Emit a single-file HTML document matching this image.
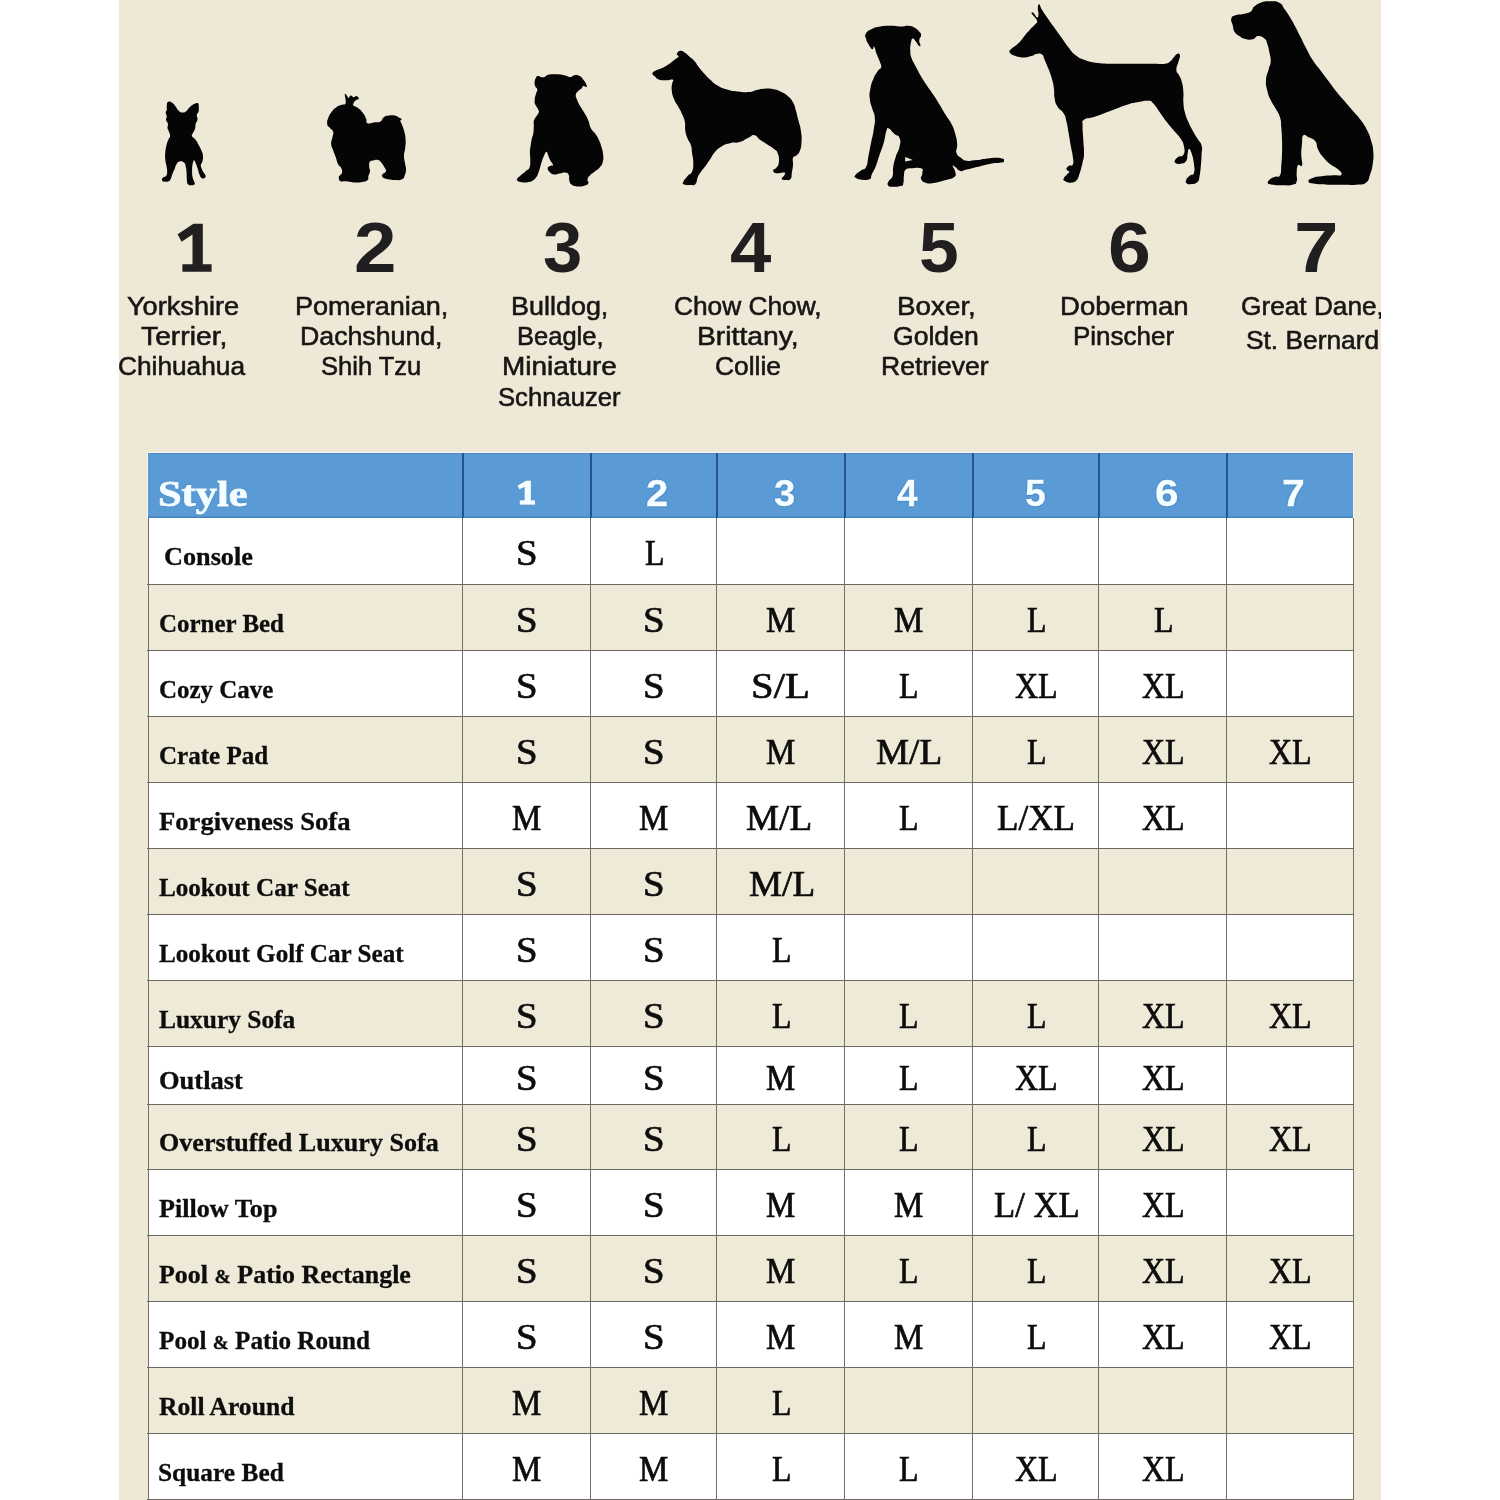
<!DOCTYPE html>
<html><head><meta charset="utf-8"><title>Size chart</title>
<style>
html,body{margin:0;padding:0;background:#fff;}
body{width:1500px;height:1500px;position:relative;overflow:hidden;font-family:"Liberation Sans",sans-serif;}
#panel{position:absolute;left:119px;top:0;width:1262px;height:1500px;background:#eee8d7;overflow:hidden;}
#wrap{position:absolute;left:-119px;top:0;width:1500px;height:1500px;}
.t{position:absolute;white-space:pre;line-height:60px;transform-origin:0 0;}
.num{font-family:'Liberation Sans';font-weight:bold;font-size:69px;color:#211e1f;}
.lbl{font-family:'Liberation Sans';font-size:25px;-webkit-text-stroke-width:0.55px;color:#181514;}
.style{font-family:'Liberation Serif';font-weight:bold;font-size:39px;-webkit-text-stroke-width:0.9px;color:#f4fdff;text-shadow:0 0 1.2px #2b6cab,0 0 1.5px #2b6cab;}
.hn{font-family:'Liberation Sans';font-weight:bold;font-size:34px;-webkit-text-stroke-width:0.3px;color:#f4fdff;text-shadow:0 0 1.2px #2b6cab,0 0 1.5px #2b6cab;}
.name{font-family:'Liberation Serif';font-weight:bold;font-size:24.4px;-webkit-text-stroke-width:0.3px;color:#0d0d0d;}
.sz{font-family:'Liberation Serif';font-size:35.6px;-webkit-text-stroke-width:0.7px;color:#0d0d0d;}
.row{position:absolute;left:148px;width:1205.4px;}
.w{background:#fff;} .b{background:#efe9d8;}
.hl{position:absolute;left:147.3px;width:1206.8px;height:1.25px;background:#6a6761;}
  .vl{position:absolute;top:518.2px;width:1.25px;height:983px;background:#726f69;}
.vh{position:absolute;top:453.3px;width:1.5px;height:64.3px;background:#235489;}
#hdr{position:absolute;left:147.8px;top:453.3px;width:1205.4px;height:64.3px;background:#5b9bd5;box-shadow:inset 0 -1.5px 0 #4583c0,inset 0 1px 0 #4d8ac6,0 0 0 1px rgba(248,252,255,.7);}
svg.dog{position:absolute;}
</style></head><body>
<div id="panel"><div id="wrap">

<svg class="dog" style="left:0;top:0" width="1500" height="210" viewBox="0 0 1500 210"><path d="M168.2,101.7C169.7,101.0 170.2,101.5 172.3,102.8C174.3,104.2 174.2,104.7 175.9,106.9C177.7,109.0 177.1,109.4 178.9,110.9C180.6,112.4 180.6,112.3 182.5,112.4C184.5,112.5 184.2,112.7 186.2,111.3C188.1,109.8 187.7,108.8 189.9,106.9C192.0,104.9 192.1,104.9 194.3,103.9C196.4,103.0 196.7,102.6 197.9,103.2C199.1,103.8 198.5,104.0 198.7,106.1C198.8,108.3 199.1,108.9 198.7,111.3C198.2,113.6 197.1,112.8 196.8,114.9C196.5,117.1 197.8,117.0 197.6,119.3C197.3,121.7 196.4,121.2 195.7,123.7C195.0,126.3 195.8,126.3 195.0,128.9C194.2,131.4 193.6,131.3 192.8,133.3C192.0,135.2 191.3,134.4 192.1,136.2C192.8,137.9 194.0,137.5 195.7,139.9C197.5,142.2 197.1,142.1 198.7,145.0C200.2,147.9 200.4,147.9 201.6,150.9C202.8,153.8 202.9,153.0 203.0,156.0C203.2,158.9 202.9,159.5 202.3,161.8C201.7,164.2 201.0,163.0 200.9,164.8C200.7,166.5 200.8,166.3 201.6,168.4C202.4,170.6 202.7,170.9 203.8,172.8C204.9,174.8 205.4,174.4 205.6,175.8C205.8,177.1 205.6,177.4 204.5,178.0C203.4,178.6 203.0,179.0 201.6,178.0C200.2,177.0 200.4,176.7 199.4,174.3C198.4,172.0 198.9,172.1 197.9,169.2C196.9,166.2 196.7,165.7 195.7,163.3C194.7,161.0 195.0,160.4 194.3,160.4C193.5,160.4 193.4,160.6 192.8,163.3C192.2,166.1 192.1,166.7 192.1,170.6C192.1,174.6 192.1,174.8 192.8,178.0C193.5,181.1 194.2,180.6 194.6,182.4C195.0,184.1 195.1,183.8 194.3,184.6C193.4,185.4 193.0,185.4 191.3,185.3C189.7,185.2 189.2,185.6 188.0,184.2C186.8,182.8 187.3,183.2 186.9,180.2C186.5,177.1 186.8,176.4 186.6,172.8C186.3,169.3 186.5,169.7 185.8,167.0C185.1,164.2 185.7,164.0 184.0,162.6C182.3,161.1 181.5,161.1 179.6,161.5C177.6,161.9 178.0,162.0 176.7,164.0C175.3,166.1 175.6,166.4 174.5,169.2C173.3,171.9 173.2,171.8 172.3,174.3C171.3,176.9 171.8,176.9 170.8,178.7C169.8,180.6 170.4,180.5 168.6,181.3C166.8,182.1 166.0,181.9 164.2,181.6C162.4,181.3 162.3,181.3 162.0,180.2C161.7,179.1 161.9,178.9 163.1,177.6C164.3,176.3 165.3,177.3 166.4,175.4C167.5,173.6 167.1,173.3 167.1,170.6C167.1,168.0 166.9,168.4 166.4,165.5C165.9,162.6 165.6,163.2 165.3,159.6C165.0,156.1 165.0,156.0 165.3,152.3C165.6,148.6 165.6,149.0 166.4,145.7C167.2,142.4 167.2,142.4 168.2,139.9C169.2,137.3 169.9,138.3 170.1,136.2C170.3,134.0 169.6,133.9 169.0,131.8C168.3,129.6 167.8,130.3 167.5,128.1C167.2,126.0 168.3,125.9 167.9,123.7C167.5,121.6 166.3,122.0 166.0,120.1C165.7,118.1 166.9,118.3 166.8,116.4C166.7,114.4 165.7,114.5 165.7,112.7C165.7,111.0 166.5,111.7 166.8,109.8C167.1,107.8 166.4,107.5 166.8,105.4C167.2,103.2 166.8,102.4 168.2,101.7Z" fill="#050505"/><path d="M344.8,94.0C345.2,92.9 346.2,94.9 347.2,96.0C348.2,97.1 347.4,98.1 348.4,98.0C349.4,97.9 349.4,95.8 350.8,95.6C352.2,95.4 352.1,97.1 353.6,97.2C355.1,97.3 355.0,95.6 356.4,96.0C357.8,96.4 359.0,97.6 358.8,98.8C358.6,100.0 357.0,99.2 355.6,100.4C354.2,101.6 354.1,101.8 353.6,103.2C353.1,104.6 352.4,104.3 353.6,105.6C354.8,106.9 355.5,106.1 358.0,108.0C360.5,109.9 360.7,110.0 362.8,112.8C364.9,115.6 364.7,115.6 366.0,118.4C367.3,121.2 365.5,122.1 367.6,123.2C369.7,124.3 370.6,122.8 374.0,122.4C377.4,122.0 377.8,122.9 380.4,121.6C383.0,120.3 381.5,119.2 383.6,117.6C385.7,116.0 385.4,116.1 388.4,115.6C391.4,115.1 392.0,115.1 394.8,115.6C397.6,116.1 397.0,116.6 398.8,117.6C400.6,118.6 401.2,118.3 401.6,119.2C402.0,120.1 400.3,119.3 400.4,120.8C400.5,122.3 400.9,121.8 402.0,124.8C403.1,127.8 403.4,127.9 404.4,132.0C405.4,136.1 405.4,135.7 405.6,140.0C405.8,144.3 405.6,143.7 405.2,148.0C404.8,152.3 404.0,151.7 404.0,156.0C404.0,160.3 404.7,160.4 405.2,164.0C405.7,167.6 406.1,166.6 406.0,169.6C405.9,172.6 405.9,172.6 404.8,175.2C403.7,177.8 404.9,177.9 402.0,179.2C399.1,180.5 398.3,180.1 394.0,180.0C389.7,179.9 389.1,179.7 386.0,178.8C382.9,177.9 383.3,178.1 382.4,176.8C381.5,175.5 381.8,175.5 382.8,174.0C383.8,172.5 385.6,173.0 386.0,171.2C386.4,169.4 385.7,169.5 384.4,167.2C383.1,164.9 382.9,164.3 381.2,162.4C379.5,160.5 380.1,160.5 378.0,160.0C375.9,159.5 375.3,160.0 373.2,160.4C371.1,160.8 371.1,160.0 370.0,161.6C368.9,163.2 369.2,163.8 369.2,166.4C369.2,169.0 370.2,168.6 370.0,171.2C369.8,173.8 369.0,173.7 368.4,176.0C367.8,178.3 369.3,178.4 367.6,180.0C365.9,181.6 365.6,181.4 362.0,182.0C358.4,182.6 358.3,182.6 354.0,182.4C349.7,182.2 349.6,181.5 346.0,181.2C342.4,180.9 342.3,182.2 340.4,181.2C338.5,180.2 338.9,179.2 338.8,177.6C338.7,176.0 339.1,176.5 340.0,175.2C340.9,173.9 341.7,174.7 342.0,172.8C342.3,170.9 342.3,170.3 341.2,168.0C340.1,165.7 339.5,167.0 338.0,164.0C336.5,161.0 336.9,160.4 335.6,156.8C334.3,153.2 334.4,153.8 333.2,150.4C332.0,147.0 331.4,147.4 331.2,144.0C331.0,140.6 331.9,140.8 332.4,137.6C332.9,134.4 333.8,134.6 333.2,132.0C332.6,129.4 331.6,130.1 330.0,128.0C328.4,125.9 327.6,126.8 327.2,124.0C326.8,121.2 327.2,120.8 328.4,117.6C329.6,114.4 329.5,114.8 331.6,112.0C333.7,109.2 333.6,109.1 336.4,107.2C339.2,105.3 339.7,105.7 342.0,104.8C344.3,103.9 344.2,105.3 345.2,104.0C346.2,102.7 345.7,102.7 345.6,100.0C345.5,97.3 344.4,95.1 344.8,94.0Z" fill="#050505"/><path d="M538.1,76.0C540.1,75.9 540.6,77.7 543.3,77.3C546.1,77.0 545.1,75.5 548.5,74.7C552.0,73.9 552.2,74.2 556.3,74.3C560.5,74.4 560.4,74.5 564.1,75.2C567.8,75.9 567.4,76.9 570.2,76.9C573.0,76.9 572.0,75.4 574.5,75.2C577.1,74.9 577.4,74.9 579.7,76.0C582.0,77.2 581.6,77.5 583.2,79.5C584.8,81.5 584.9,81.4 585.8,83.4C586.7,85.4 587.3,86.2 586.7,86.9C586.0,87.6 584.6,85.5 583.2,86.0C581.8,86.5 582.8,87.2 581.5,88.6C580.1,90.0 579.5,89.6 578.0,91.2C576.5,92.8 576.1,92.4 575.8,94.7C575.6,97.0 575.9,96.6 577.1,99.9C578.4,103.1 578.5,103.1 580.6,106.8C582.7,110.5 582.8,110.0 584.9,113.7C587.0,117.4 586.8,116.7 588.4,120.7C590.0,124.6 589.1,125.0 591.0,128.5C592.8,131.9 593.2,130.7 595.3,133.7C597.4,136.7 597.2,136.3 598.8,139.7C600.4,143.2 600.2,142.7 601.4,146.7C602.5,150.6 602.8,150.3 603.1,154.5C603.5,158.6 603.6,158.8 602.7,162.3C601.8,165.7 601.8,164.9 599.7,167.5C597.5,170.0 597.0,169.7 594.5,171.8C591.9,173.9 592.0,173.2 590.1,175.3C588.3,177.3 588.0,177.5 587.5,179.6C587.1,181.7 589.1,181.4 588.4,183.1C587.7,184.7 587.7,184.7 584.9,185.6C582.1,186.6 581.5,186.7 578.0,186.5C574.5,186.3 574.2,186.4 571.9,184.8C569.6,183.2 570.1,183.0 569.3,180.5C568.5,177.9 569.8,177.3 568.9,175.3C568.0,173.2 568.3,173.1 565.9,172.7C563.4,172.2 563.0,173.1 559.8,173.5C556.6,174.0 556.5,174.8 553.7,174.4C551.0,173.9 551.0,173.4 549.4,171.8C547.8,170.2 547.7,169.8 547.7,168.3C547.7,166.8 548.0,167.1 549.4,166.2C550.8,165.2 552.6,166.4 552.9,164.9C553.1,163.4 551.5,163.1 550.3,160.5C549.0,158.0 549.1,157.6 548.1,155.3C547.1,153.0 547.5,151.6 546.4,151.9C545.2,152.1 545.0,153.4 543.8,156.2C542.5,159.0 542.6,159.0 541.6,162.3C540.6,165.5 540.8,165.3 539.9,168.3C538.9,171.3 539.1,171.2 538.1,173.5C537.2,175.8 537.8,175.1 536.4,177.0C535.0,178.8 535.2,179.1 532.9,180.5C530.6,181.8 530.7,181.7 527.7,182.2C524.7,182.6 524.3,182.5 521.7,182.2C519.0,181.8 518.9,181.8 517.8,180.9C516.6,180.0 516.5,180.2 517.3,178.7C518.1,177.2 518.5,177.3 520.8,175.3C523.1,173.2 523.7,173.0 526.0,170.9C528.3,168.8 528.3,170.5 529.5,167.5C530.6,164.4 530.2,163.8 530.3,159.7C530.4,155.5 529.8,155.8 529.9,151.9C530.0,147.9 530.3,148.2 530.8,144.9C531.2,141.7 530.9,143.0 531.6,139.7C532.3,136.5 532.8,136.5 533.4,132.8C533.9,129.1 533.6,129.3 533.8,125.9C534.0,122.4 533.1,123.0 534.2,119.8C535.4,116.6 537.0,116.3 538.1,113.7C539.3,111.2 539.3,112.6 538.6,110.3C537.9,107.9 536.6,107.8 535.5,105.1C534.5,102.3 534.5,102.9 534.7,99.9C534.8,96.9 535.3,96.6 536.0,93.8C536.7,91.0 537.5,91.5 537.3,89.5C537.0,87.4 535.8,88.1 535.1,86.0C534.4,83.9 534.4,83.9 534.7,81.7C534.9,79.5 535.0,79.3 536.0,77.8C536.9,76.3 536.2,76.1 538.1,76.0Z" fill="#050505"/><path d="M680.2,50.8C682.5,50.5 682.8,51.4 685.3,53.0C687.9,54.7 687.4,54.9 689.9,57.0C692.3,59.1 692.0,58.2 694.4,61.0C696.8,63.7 696.2,63.7 698.9,67.2C701.7,70.7 701.6,70.7 704.6,74.0C707.6,77.3 706.9,76.6 710.3,79.7C713.6,82.7 712.8,82.8 717.1,85.3C721.3,87.9 720.7,87.6 726.1,89.3C731.6,91.0 731.4,90.8 737.5,91.6C743.5,92.3 743.7,92.6 748.8,92.1C753.9,91.7 752.5,90.8 756.7,89.9C761.0,89.0 760.1,88.9 764.7,88.7C769.2,88.6 769.2,88.4 773.7,89.3C778.3,90.2 777.7,90.2 781.7,92.1C785.6,94.1 785.4,93.9 788.5,96.7C791.5,99.4 791.0,98.7 793.0,102.3C795.0,106.0 794.5,105.7 795.8,110.3C797.2,114.8 796.7,113.9 798.1,119.3C799.5,124.8 800.0,124.6 800.9,130.7C801.8,136.7 801.8,136.6 801.5,142.0C801.2,147.4 801.2,147.4 799.8,151.1C798.4,154.7 798.2,153.8 796.4,155.6C794.6,157.4 793.9,155.4 793.0,157.9C792.1,160.3 793.3,160.7 793.0,164.7C792.7,168.6 792.5,168.8 791.9,172.6C791.3,176.4 792.2,176.9 790.7,178.8C789.2,180.8 788.6,180.0 786.2,180.0C783.8,180.0 782.1,180.2 781.7,178.8C781.2,177.5 783.9,176.5 784.5,174.9C785.1,173.2 786.2,173.0 783.9,172.6C781.7,172.1 778.9,173.8 776.0,173.2C773.1,172.6 773.2,171.7 773.2,170.3C773.2,169.0 774.5,170.2 776.0,168.1C777.5,165.9 778.4,166.3 778.8,162.4C779.3,158.5 779.1,157.0 777.7,153.3C776.3,149.7 776.6,151.2 773.7,148.8C770.9,146.4 770.6,146.7 766.9,144.3C763.3,141.8 763.5,142.1 760.1,139.7C756.8,137.3 757.5,135.8 754.5,135.2C751.4,134.6 752.7,135.6 748.8,137.5C744.9,139.3 744.6,140.5 739.7,142.0C734.9,143.5 735.5,141.9 730.7,143.1C725.8,144.3 725.8,144.1 721.6,146.5C717.4,148.9 717.8,148.9 714.8,152.2C711.8,155.5 712.7,155.4 710.3,159.0C707.8,162.6 708.1,162.5 705.7,165.8C703.3,169.1 703.3,168.4 701.2,171.5C699.1,174.5 699.3,173.8 697.8,177.1C696.3,180.5 697.6,181.8 695.5,183.9C693.4,186.0 692.9,184.9 689.9,185.1C686.8,185.2 686.0,185.2 684.2,184.5C682.4,183.7 682.2,184.5 683.1,182.2C684.0,180.0 685.2,178.9 687.6,176.0C690.0,173.1 690.6,175.1 692.1,171.5C693.6,167.8 693.3,167.2 693.3,162.4C693.3,157.6 692.7,157.9 692.1,153.3C691.5,148.8 692.2,149.3 691.0,145.4C689.8,141.5 689.1,142.5 687.6,138.6C686.1,134.7 686.1,135.2 685.3,130.7C684.6,126.1 685.7,126.1 684.8,121.6C683.9,117.1 683.6,117.6 681.9,113.7C680.3,109.7 680.6,110.8 678.5,106.9C676.4,102.9 675.8,103.5 674.0,98.9C672.2,94.4 672.2,94.1 671.7,89.9C671.3,85.6 672.0,85.8 672.3,83.1C672.6,80.3 674.5,80.4 672.9,79.7C671.2,78.9 669.7,80.2 666.1,80.2C662.4,80.2 662.3,80.7 659.3,79.7C656.2,78.6 656.5,77.9 654.7,76.3C652.9,74.6 652.2,74.9 652.5,73.4C652.8,71.9 653.1,72.1 655.9,70.6C658.6,69.1 659.0,69.6 662.7,67.8C666.3,66.0 666.1,66.1 669.5,63.8C672.8,61.5 672.7,61.2 675.1,59.3C677.5,57.3 678.1,57.8 678.5,56.4C679.0,55.1 676.4,55.7 676.8,54.2C677.3,52.7 678.0,51.1 680.2,50.8Z" fill="#050505"/><path d="M866.0,33.4C867.5,30.9 867.8,30.9 871.7,29.0C875.6,27.1 875.5,27.3 880.5,26.5C885.6,25.6 885.3,25.8 890.7,25.8C896.1,25.8 896.1,26.5 900.8,26.5C905.5,26.5 904.7,25.5 908.4,25.8C912.1,26.2 911.9,26.2 914.7,27.7C917.6,29.3 917.5,29.5 919.2,31.5C920.9,33.6 921.1,33.0 921.1,35.3C921.1,37.7 919.3,37.9 919.2,40.4C919.0,42.9 920.4,43.3 920.4,44.8C920.4,46.4 920.4,46.9 919.2,46.1C918.0,45.3 917.7,43.7 916.0,41.7C914.3,39.6 914.2,38.2 912.8,38.5C911.5,38.8 911.6,39.7 910.9,42.9C910.3,46.1 910.1,46.5 910.3,50.5C910.5,54.6 910.1,53.7 911.6,58.1C913.1,62.5 913.1,61.6 916.0,67.0C918.9,72.4 918.6,72.3 922.3,78.4C926.1,84.5 925.9,83.7 929.9,89.8C934.0,95.9 933.5,94.8 937.5,101.2C941.6,107.6 941.4,107.8 945.1,113.9C948.9,120.0 948.8,118.6 951.5,124.0C954.2,129.4 953.8,128.7 955.3,134.1C956.8,139.5 956.8,139.2 957.2,144.3C957.5,149.3 955.4,149.4 956.5,153.1C957.7,156.9 958.9,156.2 961.6,158.2C964.3,160.2 962.6,160.2 966.7,160.7C970.7,161.3 970.7,160.8 976.8,160.1C982.9,159.4 983.1,158.7 989.5,158.2C995.9,157.7 997.0,157.5 1000.9,158.2C1004.8,158.9 1004.0,159.6 1004.0,160.7C1004.0,161.9 1004.8,161.8 1000.9,162.6C997.0,163.5 995.9,162.7 989.5,163.9C983.1,165.1 982.9,165.6 976.8,167.1C970.7,168.6 971.1,168.6 966.7,169.6C962.3,170.6 963.4,171.6 960.3,170.9C957.3,170.2 957.3,168.4 955.3,167.1C953.3,165.7 952.7,164.5 952.7,165.8C952.7,167.2 954.9,169.1 955.3,172.1C955.6,175.2 957.1,175.0 954.0,177.2C951.0,179.4 949.3,178.9 943.9,180.4C938.5,181.9 938.5,182.2 933.7,182.9C929.0,183.6 929.5,183.9 926.1,182.9C922.8,181.9 922.1,181.6 921.1,179.1C920.1,176.6 922.3,176.3 922.3,173.4C922.3,170.5 924.1,169.7 921.1,168.3C918.0,167.0 915.0,168.0 910.9,168.3C906.9,168.7 907.7,167.9 905.9,169.6C904.0,171.3 904.6,171.0 904.0,174.7C903.3,178.4 904.2,180.5 903.3,183.5C902.5,186.6 903.5,185.2 900.8,186.1C898.1,186.9 896.6,186.9 893.2,186.7C889.8,186.5 889.3,187.0 888.1,185.4C887.0,183.9 887.6,183.5 888.8,181.0C890.0,178.5 891.4,179.7 892.6,175.9C893.8,172.2 892.4,172.1 893.2,167.1C894.0,162.0 894.0,162.4 895.7,156.9C897.4,151.5 898.5,151.9 899.5,146.8C900.6,141.7 900.9,141.3 899.5,137.9C898.2,134.6 897.3,136.7 894.5,134.1C891.6,131.6 891.0,129.1 888.8,128.4C886.6,127.8 887.6,127.7 886.2,131.6C884.9,135.5 885.6,136.6 883.7,143.0C881.8,149.4 881.5,149.3 879.3,155.7C877.1,162.1 877.5,162.0 875.5,167.1C873.4,172.1 873.2,171.5 871.7,174.7C870.1,177.9 872.5,177.8 869.8,179.1C867.1,180.5 865.3,180.1 861.5,179.7C857.8,179.4 857.5,179.0 855.8,177.8C854.1,176.7 854.0,177.2 855.2,175.3C856.4,173.5 857.4,173.1 860.3,170.9C863.1,168.7 863.8,171.1 866.0,167.1C868.2,163.0 867.2,162.1 868.5,155.7C869.9,149.3 869.7,149.8 871.0,143.0C872.4,136.3 872.6,137.1 873.6,130.3C874.6,123.6 875.2,123.4 874.8,117.7C874.5,111.9 873.7,113.9 872.3,108.8C871.0,103.7 870.3,104.1 869.8,98.7C869.3,93.3 869.4,93.9 870.4,88.5C871.4,83.1 871.5,83.1 873.6,78.4C875.6,73.7 876.0,73.8 878.0,70.8C880.0,67.8 880.7,69.4 881.2,67.0C881.7,64.6 881.1,65.3 879.9,61.9C878.7,58.6 878.3,58.4 876.7,54.3C875.2,50.3 875.4,48.1 874.2,46.7C873.0,45.4 873.8,49.9 872.3,49.3C870.8,48.6 870.2,47.1 868.5,44.2C866.8,41.3 866.6,41.4 866.0,38.5C865.3,35.6 864.4,36.0 866.0,33.4Z" fill="#050505"/><path d="M1039.2,4.2C1040.3,4.6 1039.8,6.1 1042.0,9.8C1044.2,13.5 1044.2,13.3 1047.6,18.2C1051.0,23.1 1050.9,22.8 1054.6,28.0C1058.3,33.2 1057.9,32.6 1061.6,37.8C1065.3,43.0 1064.9,42.9 1068.6,47.6C1072.3,52.3 1071.1,51.9 1075.6,55.3C1080.1,58.7 1079.4,58.1 1085.4,60.2C1091.4,62.3 1090.9,62.1 1098.0,63.0C1105.1,63.9 1104.5,63.5 1112.0,63.7C1119.5,63.9 1118.5,63.7 1126.0,63.7C1133.5,63.7 1132.5,63.7 1140.0,63.7C1147.5,63.7 1147.3,63.7 1154.0,63.7C1160.7,63.7 1160.9,64.3 1165.2,63.7C1169.5,63.1 1167.9,63.3 1170.1,61.6C1172.3,59.9 1171.7,59.5 1173.6,57.4C1175.5,55.3 1175.4,54.5 1177.1,53.9C1178.8,53.3 1179.5,53.2 1179.9,55.3C1180.3,57.4 1179.4,57.7 1178.5,61.6C1177.6,65.5 1176.2,66.3 1176.4,70.0C1176.6,73.7 1177.7,72.2 1179.2,75.6C1180.7,79.0 1180.9,78.1 1182.0,82.6C1183.1,87.1 1183.0,87.2 1183.4,92.4C1183.8,97.6 1183.0,97.0 1183.4,102.2C1183.8,107.4 1183.5,106.8 1184.8,112.0C1186.1,117.2 1186.2,116.9 1188.3,121.8C1190.3,126.7 1190.1,125.7 1192.5,130.2C1194.9,134.7 1195.0,134.5 1197.4,138.6C1199.8,142.7 1200.5,141.5 1201.6,145.6C1202.7,149.7 1201.8,148.8 1201.6,154.0C1201.4,159.2 1201.5,159.2 1200.9,165.2C1200.3,171.2 1200.4,171.9 1199.5,176.4C1198.6,180.9 1199.4,179.9 1197.4,182.0C1195.3,184.0 1194.6,183.7 1191.8,184.1C1189.0,184.5 1188.4,184.5 1186.9,183.4C1185.4,182.3 1185.4,181.9 1186.2,179.9C1186.9,177.8 1187.6,177.6 1189.7,175.7C1191.7,173.8 1192.8,176.1 1193.9,172.9C1195.0,169.7 1194.5,168.8 1193.9,163.8C1193.3,158.8 1193.1,157.9 1191.8,154.0C1190.5,150.1 1190.1,149.1 1189.0,149.1C1187.9,149.1 1188.3,150.8 1187.6,154.0C1186.8,157.2 1188.1,158.4 1186.2,161.0C1184.3,163.6 1183.4,163.2 1180.6,163.8C1177.8,164.4 1177.2,164.0 1175.7,163.1C1174.2,162.2 1174.2,162.0 1175.0,160.3C1175.7,158.6 1176.3,158.3 1178.5,156.8C1180.7,155.3 1181.9,157.3 1183.4,154.7C1184.9,152.1 1184.8,151.3 1184.1,147.0C1183.3,142.7 1183.4,143.1 1180.6,138.6C1177.8,134.1 1177.3,134.7 1173.6,130.2C1169.9,125.7 1170.3,126.7 1166.6,121.8C1162.9,116.9 1163.1,116.9 1159.6,112.0C1156.1,107.1 1156.3,106.6 1153.3,103.6C1150.3,100.6 1152.7,101.2 1148.4,100.8C1144.1,100.4 1143.2,101.1 1137.2,102.2C1131.2,103.3 1132.0,103.1 1126.0,105.0C1120.0,106.9 1120.8,107.0 1114.8,109.2C1108.8,111.4 1109.2,111.3 1103.6,113.4C1098.0,115.5 1099.0,115.2 1093.8,116.9C1088.6,118.6 1087.0,117.3 1084.0,119.7C1081.0,122.1 1082.8,120.6 1082.6,126.0C1082.4,131.4 1082.9,132.5 1083.3,140.0C1083.7,147.5 1084.2,148.0 1084.0,154.0C1083.8,160.0 1083.3,158.7 1082.6,162.4C1081.9,166.1 1082.1,164.6 1081.2,168.0C1080.3,171.4 1080.4,171.6 1079.1,175.0C1077.8,178.4 1078.5,178.5 1076.3,180.6C1074.1,182.6 1073.7,182.5 1070.7,182.7C1067.7,182.9 1067.0,182.4 1065.1,181.3C1063.2,180.2 1063.1,180.4 1063.7,178.5C1064.3,176.6 1065.7,176.2 1067.2,174.3C1068.7,172.4 1069.5,172.8 1069.3,171.5C1069.1,170.2 1066.7,170.9 1066.5,169.4C1066.3,167.9 1066.9,167.2 1068.6,165.9C1070.3,164.6 1071.7,166.9 1072.8,164.5C1073.9,162.1 1073.4,161.8 1072.8,156.8C1072.2,151.8 1071.8,151.9 1070.7,145.6C1069.6,139.3 1069.7,139.3 1068.6,133.0C1067.5,126.7 1067.8,127.0 1066.5,121.8C1065.2,116.6 1066.1,117.5 1063.7,113.4C1061.3,109.3 1059.8,110.5 1057.4,106.4C1055.0,102.3 1055.5,102.9 1054.6,98.0C1053.7,93.1 1054.6,93.4 1053.9,88.2C1053.2,83.0 1053.3,83.6 1051.8,78.4C1050.3,73.2 1050.2,73.5 1048.3,68.6C1046.4,63.7 1046.5,63.9 1044.8,60.2C1043.1,56.5 1044.2,56.3 1042.0,54.6C1039.8,52.9 1039.2,53.5 1036.4,53.9C1033.6,54.3 1034.9,55.1 1031.5,56.0C1028.1,56.9 1028.1,57.4 1023.8,57.4C1019.5,57.4 1019.1,57.3 1015.4,56.0C1011.7,54.7 1010.9,54.4 1009.8,52.5C1008.7,50.6 1009.3,51.1 1011.2,49.0C1013.1,46.9 1014.2,47.0 1016.8,44.8C1019.4,42.6 1018.8,43.2 1021.0,40.6C1023.2,38.0 1022.8,38.0 1025.2,35.0C1027.6,32.0 1027.5,32.2 1030.1,29.4C1032.7,26.6 1033.1,26.7 1035.0,24.5C1036.9,22.3 1037.5,23.2 1037.1,21.0C1036.7,18.8 1035.1,18.2 1033.6,16.1C1032.1,14.0 1031.5,14.2 1031.5,13.3C1031.5,12.4 1032.1,11.8 1033.6,12.9C1035.1,14.0 1035.8,17.2 1037.1,17.5C1038.4,17.8 1038.3,16.4 1038.5,14.0C1038.7,11.6 1037.6,11.0 1037.8,8.4C1038.0,5.8 1038.1,3.8 1039.2,4.2Z" fill="#050505"/><path d="M1254.0,6.7C1256.1,5.1 1256.4,4.1 1260.7,2.7C1264.9,1.2 1265.0,1.3 1270.0,1.3C1275.0,1.3 1275.4,0.5 1279.3,2.7C1283.2,4.8 1281.8,5.4 1284.7,9.3C1287.5,13.2 1287.2,12.7 1290.0,17.3C1292.8,22.0 1292.5,21.3 1295.3,26.7C1298.2,32.0 1297.8,31.6 1300.7,37.3C1303.5,43.0 1302.8,42.0 1306.0,48.0C1309.2,54.0 1308.8,54.0 1312.7,60.0C1316.6,66.0 1316.4,65.0 1320.7,70.7C1324.9,76.4 1324.4,75.6 1328.7,81.3C1332.9,87.0 1332.4,86.7 1336.7,92.0C1340.9,97.3 1340.4,96.4 1344.7,101.3C1348.9,106.3 1348.4,105.7 1352.7,110.7C1356.9,115.6 1356.8,114.7 1360.7,120.0C1364.6,125.3 1364.5,125.0 1367.3,130.7C1370.2,136.4 1369.7,135.6 1371.3,141.3C1372.9,147.0 1373.0,146.0 1373.3,152.0C1373.7,158.0 1373.6,158.0 1372.7,164.0C1371.8,170.0 1371.8,169.7 1370.0,174.7C1368.2,179.6 1369.6,180.0 1366.0,182.7C1362.4,185.3 1362.7,184.1 1356.7,184.7C1350.6,185.2 1350.4,184.7 1343.3,184.7C1336.2,184.7 1337.1,184.8 1330.0,184.7C1322.9,184.5 1322.4,184.7 1316.7,184.0C1311.0,183.3 1309.7,183.6 1308.7,182.0C1307.6,180.4 1308.8,179.6 1312.7,178.0C1316.6,176.4 1317.6,176.7 1323.3,176.0C1329.0,175.3 1329.2,175.7 1334.0,175.3C1338.8,175.0 1340.3,176.3 1341.3,174.7C1342.4,173.1 1341.0,172.2 1338.0,169.3C1335.0,166.5 1333.9,167.2 1330.0,164.0C1326.1,160.8 1326.5,161.2 1323.3,157.3C1320.1,153.4 1320.1,153.6 1318.0,149.3C1315.9,145.1 1317.8,144.5 1315.3,141.3C1312.8,138.1 1311.9,138.9 1308.7,137.3C1305.5,135.7 1305.1,133.6 1303.3,135.3C1301.6,137.1 1302.5,138.8 1302.0,144.0C1301.5,149.2 1301.3,149.0 1301.3,154.7C1301.3,160.4 1302.9,162.5 1302.0,165.3C1301.1,168.2 1299.4,163.2 1298.0,165.3C1296.6,167.5 1297.0,169.1 1296.7,173.3C1296.3,177.6 1297.7,178.3 1296.7,181.3C1295.6,184.4 1296.6,183.6 1292.7,184.7C1288.8,185.7 1287.3,185.3 1282.0,185.3C1276.7,185.3 1276.4,185.2 1272.7,184.7C1268.9,184.1 1268.7,184.8 1268.0,183.3C1267.3,181.9 1268.0,181.1 1270.0,179.3C1272.0,177.6 1272.7,177.7 1275.3,176.7C1278.0,175.6 1278.4,178.4 1280.0,175.3C1281.6,172.3 1280.8,171.2 1281.3,165.3C1281.9,159.5 1281.8,160.1 1282.0,153.3C1282.2,146.6 1282.2,146.8 1282.0,140.0C1281.8,133.2 1281.9,134.0 1281.3,128.0C1280.8,122.0 1281.6,122.7 1280.0,117.3C1278.4,112.0 1277.8,112.6 1275.3,108.0C1272.8,103.4 1272.8,104.6 1270.7,100.0C1268.5,95.4 1268.6,96.0 1267.3,90.7C1266.1,85.3 1265.6,85.7 1266.0,80.0C1266.4,74.3 1267.4,74.3 1268.7,69.3C1269.9,64.4 1270.5,66.0 1270.7,61.3C1270.8,56.7 1270.2,56.6 1269.3,52.0C1268.4,47.4 1268.6,47.6 1267.3,44.0C1266.1,40.4 1267.2,40.8 1264.7,38.7C1262.2,36.5 1261.2,35.8 1258.0,36.0C1254.8,36.2 1256.2,38.6 1252.7,39.3C1249.1,40.0 1248.2,39.6 1244.7,38.7C1241.1,37.8 1242.0,37.8 1239.3,36.0C1236.7,34.2 1236.4,34.8 1234.7,32.0C1232.9,29.2 1233.6,28.9 1232.7,25.3C1231.8,21.8 1230.6,21.3 1231.3,18.7C1232.0,16.0 1232.1,16.6 1235.3,15.3C1238.5,14.1 1239.4,14.9 1243.3,14.0C1247.2,13.1 1247.5,13.4 1250.0,12.0C1252.5,10.6 1251.6,10.1 1252.7,8.7C1253.7,7.2 1251.9,8.3 1254.0,6.7Z" fill="#050505"/><polygon points="905.2,156.9 912.8,160.1 905.2,161.4" fill="#eee8d7"/></svg>
<div class="t num" style="left:353.93px;top:218.13px;transform:scale(1.1061,1.0126)">2</div>
<div class="t num" style="left:543.07px;top:218.13px;transform:scale(1.0232,1.0126)">3</div>
<div class="t num" style="left:730.02px;top:218.13px;transform:scale(1.0784,1.0126)">4</div>
<div class="t num" style="left:919.17px;top:218.13px;transform:scale(1.0365,1.0126)">5</div>
<div class="t num" style="left:1107.61px;top:218.13px;transform:scale(1.1164,1.0126)">6</div>
<div class="t num" style="left:1293.92px;top:218.13px;transform:scale(1.1597,1.0126)">7</div>
<div class="t lbl" style="left:127.03px;top:275.55px;transform:scale(1.0856,1.0000)">Yorkshire</div>
<div class="t lbl" style="left:140.52px;top:305.90px;transform:scale(1.1300,1.0000)">Terrier,</div>
<div class="t lbl" style="left:118.35px;top:336.25px;transform:scale(1.0503,1.0000)">Chihuahua</div>
<div class="t lbl" style="left:294.81px;top:275.55px;transform:scale(1.0819,1.0000)">Pomeranian,</div>
<div class="t lbl" style="left:300.03px;top:305.90px;transform:scale(1.0682,1.0000)">Dachshund,</div>
<div class="t lbl" style="left:320.83px;top:336.25px;transform:scale(1.0208,1.0000)">Shih Tzu</div>
<div class="t lbl" style="left:511.11px;top:275.55px;transform:scale(1.0775,1.0000)">Bulldog,</div>
<div class="t lbl" style="left:517.11px;top:305.90px;transform:scale(1.0210,1.0000)">Beagle,</div>
<div class="t lbl" style="left:502.04px;top:336.25px;transform:scale(1.1172,1.0000)">Miniature</div>
<div class="t lbl" style="left:497.93px;top:366.60px;transform:scale(1.0262,1.0000)">Schnauzer</div>
<div class="t lbl" style="left:673.85px;top:275.55px;transform:scale(1.0514,1.0000)">Chow Chow,</div>
<div class="t lbl" style="left:697.02px;top:305.90px;transform:scale(1.1302,1.0000)">Brittany,</div>
<div class="t lbl" style="left:714.54px;top:336.25px;transform:scale(1.0551,1.0000)">Collie</div>
<div class="t lbl" style="left:896.85px;top:275.55px;transform:scale(1.1123,1.0000)">Boxer,</div>
<div class="t lbl" style="left:892.94px;top:305.90px;transform:scale(1.0633,1.0000)">Golden</div>
<div class="t lbl" style="left:881.14px;top:336.25px;transform:scale(1.0613,1.0000)">Retriever</div>
<div class="t lbl" style="left:1059.67px;top:275.55px;transform:scale(1.1013,1.0000)">Doberman</div>
<div class="t lbl" style="left:1072.58px;top:305.90px;transform:scale(1.0394,1.0000)">Pinscher</div>
<div class="t lbl" style="left:1241.35px;top:276.05px;transform:scale(1.0492,1.0000)">Great Dane,</div>
<div class="t lbl" style="left:1245.61px;top:309.55px;transform:scale(1.0530,1.0000)">St. Bernard</div>
<svg class="dog" style="left:170px;top:215px" width="50" height="65" viewBox="170 215 50 65"><polygon fill="#211e1f" points="193.5,223.7 202.8,223.7 202.8,264.2 211.6,264.2 211.6,271.8 182.4,271.8 182.4,264.2 192.5,264.2 192.5,234.6 181.6,241.8 177.6,234.2"/></svg>
<div id="hdr"></div>
<div class="row w" style="top:517.5px;height:66.8px"></div>
<div class="row b" style="top:584.3px;height:66.2px"></div>
<div class="row w" style="top:650.5px;height:66.3px"></div>
<div class="row b" style="top:716.8px;height:65.7px"></div>
<div class="row w" style="top:782.5px;height:66.0px"></div>
<div class="row b" style="top:848.5px;height:66.0px"></div>
<div class="row w" style="top:914.5px;height:65.9px"></div>
<div class="row b" style="top:980.4px;height:66.2px"></div>
<div class="row w" style="top:1046.6px;height:57.4px"></div>
<div class="row b" style="top:1104px;height:65.2px"></div>
<div class="row w" style="top:1169.2px;height:66.4px"></div>
<div class="row b" style="top:1235.6px;height:65.6px"></div>
<div class="row w" style="top:1301.2px;height:66.6px"></div>
<div class="row b" style="top:1367.8px;height:66.0px"></div>
<div class="row w" style="top:1433.8px;height:66.2px"></div>
<div class="hl" style="top:584px"></div>
<div class="hl" style="top:650px"></div>
<div class="hl" style="top:716px"></div>
<div class="hl" style="top:782px"></div>
<div class="hl" style="top:848px"></div>
<div class="hl" style="top:914px"></div>
<div class="hl" style="top:980px"></div>
<div class="hl" style="top:1046px"></div>
<div class="hl" style="top:1104px"></div>
<div class="hl" style="top:1169px"></div>
<div class="hl" style="top:1235px"></div>
<div class="hl" style="top:1301px"></div>
<div class="hl" style="top:1367px"></div>
<div class="hl" style="top:1433px"></div>
<div class="hl" style="top:1499.3px"></div>
<div class="vl" style="left:148px"></div>
<div class="vl" style="left:462px"></div>
<div class="vl" style="left:590px"></div>
<div class="vl" style="left:716px"></div>
<div class="vl" style="left:844px"></div>
<div class="vl" style="left:972px"></div>
<div class="vl" style="left:1098px"></div>
<div class="vl" style="left:1226px"></div>
<div class="vl" style="left:1353px"></div>
<div class="vh" style="left:462px"></div>
<div class="vh" style="left:590px"></div>
<div class="vh" style="left:716px"></div>
<div class="vh" style="left:844px"></div>
<div class="vh" style="left:972px"></div>
<div class="vh" style="left:1098px"></div>
<div class="vh" style="left:1226px"></div>
<div class="t style" style="left:157.90px;top:465.11px;transform:scale(1.0875,0.9434)">Style</div>
<div class="t hn" style="left:646.32px;top:461.21px;transform:scale(1.1761,1.0681)">2</div>
<div class="t hn" style="left:774.35px;top:461.21px;transform:scale(1.1294,1.0681)">3</div>
<div class="t hn" style="left:897.13px;top:461.21px;transform:scale(1.0865,1.0681)">4</div>
<div class="t hn" style="left:1024.80px;top:461.21px;transform:scale(1.1000,1.0681)">5</div>
<div class="t hn" style="left:1155.15px;top:461.21px;transform:scale(1.2478,1.0681)">6</div>
<div class="t hn" style="left:1282.09px;top:461.21px;transform:scale(1.2062,1.0681)">7</div>
<div class="t name" style="left:164.02px;top:527.00px;transform:scale(1.0757,1.0000)">Console</div>
<div class="t sz" style="left:515.91px;top:523.45px;transform:scale(1.0938,1.0000)">S</div>
<div class="t sz" style="left:644.78px;top:523.45px;transform:scale(0.8935,1.0000)">L</div>
<div class="t name" style="left:158.68px;top:593.50px;transform:scale(1.0231,1.0000)">Corner Bed</div>
<div class="t sz" style="left:515.91px;top:589.95px;transform:scale(1.0938,1.0000)">S</div>
<div class="t sz" style="left:643.11px;top:589.95px;transform:scale(1.0938,1.0000)">S</div>
<div class="t sz" style="left:766.41px;top:589.95px;transform:scale(0.9256,1.0000)">M</div>
<div class="t sz" style="left:893.91px;top:589.95px;transform:scale(0.9256,1.0000)">M</div>
<div class="t sz" style="left:1026.63px;top:589.95px;transform:scale(0.8935,1.0000)">L</div>
<div class="t sz" style="left:1153.73px;top:589.95px;transform:scale(0.8935,1.0000)">L</div>
<div class="t name" style="left:158.68px;top:659.75px;transform:scale(1.0222,1.0000)">Cozy Cave</div>
<div class="t sz" style="left:515.91px;top:656.20px;transform:scale(1.0938,1.0000)">S</div>
<div class="t sz" style="left:643.11px;top:656.20px;transform:scale(1.0938,1.0000)">S</div>
<div class="t sz" style="left:751.46px;top:656.20px;transform:scale(1.1455,1.0000)">S/L</div>
<div class="t sz" style="left:899.33px;top:656.20px;transform:scale(0.8935,1.0000)">L</div>
<div class="t sz" style="left:1015.10px;top:656.20px;transform:scale(0.8994,1.0000)">XL</div>
<div class="t sz" style="left:1142.20px;top:656.20px;transform:scale(0.8994,1.0000)">XL</div>
<div class="t name" style="left:158.67px;top:725.75px;transform:scale(1.0280,1.0000)">Crate Pad</div>
<div class="t sz" style="left:515.91px;top:722.20px;transform:scale(1.0938,1.0000)">S</div>
<div class="t sz" style="left:643.11px;top:722.20px;transform:scale(1.0938,1.0000)">S</div>
<div class="t sz" style="left:766.41px;top:722.20px;transform:scale(0.9256,1.0000)">M</div>
<div class="t sz" style="left:876.07px;top:722.20px;transform:scale(1.0453,1.0000)">M/L</div>
<div class="t sz" style="left:1026.63px;top:722.20px;transform:scale(0.8935,1.0000)">L</div>
<div class="t sz" style="left:1142.20px;top:722.20px;transform:scale(0.8994,1.0000)">XL</div>
<div class="t sz" style="left:1269.40px;top:722.20px;transform:scale(0.8994,1.0000)">XL</div>
<div class="t name" style="left:159.43px;top:791.60px;transform:scale(1.0914,1.0000)">Forgiveness Sofa</div>
<div class="t sz" style="left:512.16px;top:788.05px;transform:scale(0.9256,1.0000)">M</div>
<div class="t sz" style="left:639.36px;top:788.05px;transform:scale(0.9256,1.0000)">M</div>
<div class="t sz" style="left:745.57px;top:788.05px;transform:scale(1.0453,1.0000)">M/L</div>
<div class="t sz" style="left:899.33px;top:788.05px;transform:scale(0.8935,1.0000)">L</div>
<div class="t sz" style="left:997.41px;top:788.05px;transform:scale(0.9869,1.0000)">L/XL</div>
<div class="t sz" style="left:1142.20px;top:788.05px;transform:scale(0.8994,1.0000)">XL</div>
<div class="t name" style="left:158.84px;top:857.60px;transform:scale(1.0297,1.0000)">Lookout Car Seat</div>
<div class="t sz" style="left:515.91px;top:854.05px;transform:scale(1.0938,1.0000)">S</div>
<div class="t sz" style="left:643.11px;top:854.05px;transform:scale(1.0938,1.0000)">S</div>
<div class="t sz" style="left:748.57px;top:854.05px;transform:scale(1.0453,1.0000)">M/L</div>
<div class="t name" style="left:158.84px;top:923.55px;transform:scale(1.0306,1.0000)">Lookout Golf Car Seat</div>
<div class="t sz" style="left:515.91px;top:920.00px;transform:scale(1.0938,1.0000)">S</div>
<div class="t sz" style="left:643.11px;top:920.00px;transform:scale(1.0938,1.0000)">S</div>
<div class="t sz" style="left:771.83px;top:920.00px;transform:scale(0.8935,1.0000)">L</div>
<div class="t name" style="left:158.84px;top:989.60px;transform:scale(1.0418,1.0000)">Luxury Sofa</div>
<div class="t sz" style="left:515.91px;top:986.05px;transform:scale(1.0938,1.0000)">S</div>
<div class="t sz" style="left:643.11px;top:986.05px;transform:scale(1.0938,1.0000)">S</div>
<div class="t sz" style="left:771.83px;top:986.05px;transform:scale(0.8935,1.0000)">L</div>
<div class="t sz" style="left:899.33px;top:986.05px;transform:scale(0.8935,1.0000)">L</div>
<div class="t sz" style="left:1026.63px;top:986.05px;transform:scale(0.8935,1.0000)">L</div>
<div class="t sz" style="left:1142.20px;top:986.05px;transform:scale(0.8994,1.0000)">XL</div>
<div class="t sz" style="left:1269.40px;top:986.05px;transform:scale(0.8994,1.0000)">XL</div>
<div class="t name" style="left:158.61px;top:1051.40px;transform:scale(1.0859,1.0000)">Outlast</div>
<div class="t sz" style="left:515.91px;top:1047.85px;transform:scale(1.0938,1.0000)">S</div>
<div class="t sz" style="left:643.11px;top:1047.85px;transform:scale(1.0938,1.0000)">S</div>
<div class="t sz" style="left:766.41px;top:1047.85px;transform:scale(0.9256,1.0000)">M</div>
<div class="t sz" style="left:899.33px;top:1047.85px;transform:scale(0.8935,1.0000)">L</div>
<div class="t sz" style="left:1015.10px;top:1047.85px;transform:scale(0.8994,1.0000)">XL</div>
<div class="t sz" style="left:1142.20px;top:1047.85px;transform:scale(0.8994,1.0000)">XL</div>
<div class="t name" style="left:158.63px;top:1112.70px;transform:scale(1.0697,1.0000)">Overstuffed Luxury Sofa</div>
<div class="t sz" style="left:515.91px;top:1109.15px;transform:scale(1.0938,1.0000)">S</div>
<div class="t sz" style="left:643.11px;top:1109.15px;transform:scale(1.0938,1.0000)">S</div>
<div class="t sz" style="left:771.83px;top:1109.15px;transform:scale(0.8935,1.0000)">L</div>
<div class="t sz" style="left:899.33px;top:1109.15px;transform:scale(0.8935,1.0000)">L</div>
<div class="t sz" style="left:1026.63px;top:1109.15px;transform:scale(0.8935,1.0000)">L</div>
<div class="t sz" style="left:1142.20px;top:1109.15px;transform:scale(0.8994,1.0000)">XL</div>
<div class="t sz" style="left:1269.40px;top:1109.15px;transform:scale(0.8994,1.0000)">XL</div>
<div class="t name" style="left:159.43px;top:1178.50px;transform:scale(1.0721,1.0000)">Pillow Top</div>
<div class="t sz" style="left:515.91px;top:1174.95px;transform:scale(1.0938,1.0000)">S</div>
<div class="t sz" style="left:643.11px;top:1174.95px;transform:scale(1.0938,1.0000)">S</div>
<div class="t sz" style="left:766.41px;top:1174.95px;transform:scale(0.9256,1.0000)">M</div>
<div class="t sz" style="left:893.91px;top:1174.95px;transform:scale(0.9256,1.0000)">M</div>
<div class="t sz" style="left:993.57px;top:1174.95px;transform:scale(0.9731,1.0000)">L/ XL</div>
<div class="t sz" style="left:1142.20px;top:1174.95px;transform:scale(0.8994,1.0000)">XL</div>
<div class="t name" style="left:159.43px;top:1244.50px;transform:scale(1.0629,1.0000)">Pool <span style="font-size:.76em">&amp;</span> Patio Rectangle</div>
<div class="t sz" style="left:515.91px;top:1240.95px;transform:scale(1.0938,1.0000)">S</div>
<div class="t sz" style="left:643.11px;top:1240.95px;transform:scale(1.0938,1.0000)">S</div>
<div class="t sz" style="left:766.41px;top:1240.95px;transform:scale(0.9256,1.0000)">M</div>
<div class="t sz" style="left:899.33px;top:1240.95px;transform:scale(0.8935,1.0000)">L</div>
<div class="t sz" style="left:1026.63px;top:1240.95px;transform:scale(0.8935,1.0000)">L</div>
<div class="t sz" style="left:1142.20px;top:1240.95px;transform:scale(0.8994,1.0000)">XL</div>
<div class="t sz" style="left:1269.40px;top:1240.95px;transform:scale(0.8994,1.0000)">XL</div>
<div class="t name" style="left:159.44px;top:1310.60px;transform:scale(1.0321,1.0000)">Pool <span style="font-size:.76em">&amp;</span> Patio Round</div>
<div class="t sz" style="left:515.91px;top:1307.05px;transform:scale(1.0938,1.0000)">S</div>
<div class="t sz" style="left:643.11px;top:1307.05px;transform:scale(1.0938,1.0000)">S</div>
<div class="t sz" style="left:766.41px;top:1307.05px;transform:scale(0.9256,1.0000)">M</div>
<div class="t sz" style="left:893.91px;top:1307.05px;transform:scale(0.9256,1.0000)">M</div>
<div class="t sz" style="left:1026.63px;top:1307.05px;transform:scale(0.8935,1.0000)">L</div>
<div class="t sz" style="left:1142.20px;top:1307.05px;transform:scale(0.8994,1.0000)">XL</div>
<div class="t sz" style="left:1269.40px;top:1307.05px;transform:scale(0.8994,1.0000)">XL</div>
<div class="t name" style="left:159.44px;top:1376.90px;transform:scale(1.0493,1.0000)">Roll Around</div>
<div class="t sz" style="left:512.16px;top:1373.35px;transform:scale(0.9256,1.0000)">M</div>
<div class="t sz" style="left:639.36px;top:1373.35px;transform:scale(0.9256,1.0000)">M</div>
<div class="t sz" style="left:771.83px;top:1373.35px;transform:scale(0.8935,1.0000)">L</div>
<div class="t name" style="left:158.40px;top:1443.00px;transform:scale(1.0410,1.0000)">Square Bed</div>
<div class="t sz" style="left:512.16px;top:1439.45px;transform:scale(0.9256,1.0000)">M</div>
<div class="t sz" style="left:639.36px;top:1439.45px;transform:scale(0.9256,1.0000)">M</div>
<div class="t sz" style="left:771.83px;top:1439.45px;transform:scale(0.8935,1.0000)">L</div>
<div class="t sz" style="left:899.33px;top:1439.45px;transform:scale(0.8935,1.0000)">L</div>
<div class="t sz" style="left:1015.10px;top:1439.45px;transform:scale(0.8994,1.0000)">XL</div>
<div class="t sz" style="left:1142.20px;top:1439.45px;transform:scale(0.8994,1.0000)">XL</div>
<svg class="dog" style="left:510px;top:475px;filter:drop-shadow(0 0 0.7px #2b6cab) drop-shadow(0 0 0.7px #2b6cab)" width="32" height="36" viewBox="510 475 32 36"><polygon fill="#f4fdff" points="526.4,480.4 530.9,480.4 530.9,500.2 535.1,500.2 535.1,504.7 519.6,504.7 519.6,500.2 524.5,500.2 524.5,487.0 519.3,489.6 517.4,485.4"/></svg>
</div></div></body></html>
